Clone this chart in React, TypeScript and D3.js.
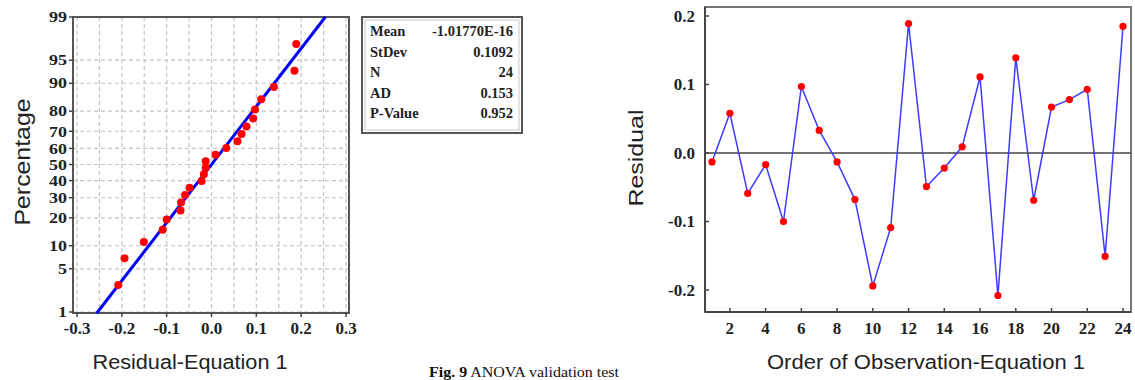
import React from "react";
import * as d3 from "d3";

// residuals in order of observation
const observations = [1, 2, 3, 4, 5, 6, 7, 8, 9, 10, 11, 12, 13, 14, 15, 16, 17, 18, 19, 20, 21, 22, 23, 24];
const residuals = [
  -0.013, 0.058, -0.059, -0.017, -0.1, 0.097, 0.033, -0.013, -0.068, -0.194, -0.109, 0.189,
  -0.049, -0.022, 0.009, 0.111, -0.208, 0.139, -0.069, 0.067, 0.078, 0.093, -0.151, 0.185,
];

const statLabels = ["Mean", "StDev", "N", "AD", "P-Value"];
const statValues = ["-1.01770E-16", "0.1092", "24", "0.153", "0.952"];
const fitMean = 0;
const fitStDev = 0.1092;

const percentTicks = [1, 5, 10, 20, 30, 40, 50, 60, 70, 80, 90, 95, 99];
const residualTicks = [-0.3, -0.2, -0.1, 0, 0.1, 0.2, 0.3];
const residualGrid = [-0.3, -0.25, -0.2, -0.15, -0.1, -0.05, 0, 0.05, 0.1, 0.15, 0.2, 0.25, 0.3];
const orderTicks = [2, 4, 6, 8, 10, 12, 14, 16, 18, 20, 22, 24];
const residTicksRight = [-0.2, -0.1, 0, 0.1, 0.2];

// inverse normal cdf (Acklam)
function normInv(p: number): number {
  const a = [-39.69683028665376, 220.9460984245205, -275.9285104469687, 138.357751867269, -30.66479806614716, 2.506628277459239];
  const b = [-54.47609879822406, 161.5858368580409, -155.6989798598866, 66.80131188771972, -13.28068155288572];
  const c = [-0.007784894002430293, -0.3223964580411365, -2.400758277161838, -2.549732539343734, 4.374664141464968, 2.938163982698783];
  const d = [0.007784695709041462, 0.3224671290700398, 2.445134137142996, 3.754408661907416];
  const pl = 0.02425;
  if (p < pl) {
    const q = Math.sqrt(-2 * Math.log(p));
    return (((((c[0] * q + c[1]) * q + c[2]) * q + c[3]) * q + c[4]) * q + c[5]) / ((((d[0] * q + d[1]) * q + d[2]) * q + d[3]) * q + 1);
  }
  if (p <= 1 - pl) {
    const q = p - 0.5;
    const r = q * q;
    return ((((((a[0] * r + a[1]) * r + a[2]) * r + a[3]) * r + a[4]) * r + a[5]) * q) / (((((b[0] * r + b[1]) * r + b[2]) * r + b[3]) * r + b[4]) * r + 1);
  }
  const q = Math.sqrt(-2 * Math.log(1 - p));
  return -(((((c[0] * q + c[1]) * q + c[2]) * q + c[3]) * q + c[4]) * q + c[5]) / ((((d[0] * q + d[1]) * q + d[2]) * q + d[3]) * q + 1);
}

const serif = "'Liberation Serif', 'Times New Roman', serif";
const sans = "'Liberation Sans', Arial, sans-serif";

const App = () => {
  // ---- left: normal probability plot
  const L = { left: 73, right: 349, top: 17, bottom: 313 };
  const xL = d3.scaleLinear().domain([-0.3, 0.3]).range([77, 346]);
  const yL = d3.scaleLinear().domain([normInv(0.01), normInv(0.99)]).range([312, 17]);
  const yP = (pct: number) => yL(normInv(pct / 100));

  const n = residuals.length;
  const sorted = residuals.slice().sort(d3.ascending);
  const probPoints = sorted.map((r, i) => ({ r, pct: ((i + 1 - 0.3) / (n + 0.4)) * 100 }));

  const fitLine = d3
    .line<number>()
    .x((p) => xL(fitMean + normInv(p) * fitStDev))
    .y((p) => yL(normInv(p)));
  const fitProbs = [0.0095, 0.99];

  // ---- right: residuals vs order
  const R = { left: 705, right: 1131, top: 7, bottom: 312 };
  const xR = d3.scaleLinear().domain([1, 24]).range([712, 1123]);
  const yR = d3.scaleLinear().domain([-0.2, 0.2]).range([290, 16]);
  const resLine = d3
    .line<number>()
    .x((_, i) => xR(observations[i]))
    .y((v) => yR(v));

  return (
    <svg width={1135} height={380} style={{ position: "absolute", left: 0, top: 0, background: "#fff" }}>
      {/* left grid */}
      {residualGrid.map((t) => (
        <line key={"gx" + t} x1={xL(t)} x2={xL(t)} y1={L.top} y2={L.bottom} stroke="#c4c4c4" strokeWidth={1.2} strokeDasharray="4,3" />
      ))}
      {percentTicks.map((t) => (
        <line key={"gy" + t} x1={L.left} x2={L.right} y1={yP(t)} y2={yP(t)} stroke="#c4c4c4" strokeWidth={1.2} strokeDasharray="4,3" />
      ))}
      <rect x={L.left} y={L.top} width={L.right - L.left} height={L.bottom - L.top} fill="none" stroke="#555" strokeWidth={2} />
      {percentTicks.map((t) => (
        <g key={"ty" + t}>
          <line x1={L.left - 4} x2={L.left} y1={yP(t)} y2={yP(t)} stroke="#444" strokeWidth={1.5} />
          <text x={67} y={yP(t)} dy="0.35em" textAnchor="end" fontFamily={serif} fontWeight="bold" fontSize={15} fill="#222" textLength={t < 10 ? 9 : 18} lengthAdjust="spacingAndGlyphs">
            {t}
          </text>
        </g>
      ))}
      {residualTicks.map((t) => (
        <g key={"tx" + t}>
          <line x1={xL(t)} x2={xL(t)} y1={L.bottom} y2={L.bottom + 4} stroke="#444" strokeWidth={1.5} />
          <text x={xL(t)} y={328} dy="0.35em" textAnchor="middle" fontFamily={serif} fontWeight="bold" fontSize={17} fill="#222">
            {t.toFixed(1)}
          </text>
        </g>
      ))}
      <path d={fitLine(fitProbs) || ""} fill="none" stroke="#0000ff" strokeWidth={3} />
      {probPoints.map((p, i) => (
        <circle key={"pp" + i} cx={xL(p.r)} cy={yP(p.pct)} r={4} fill="#ff0000" />
      ))}
      <text transform="translate(22,162) rotate(-90)" textAnchor="middle" dy="0.35em" fontFamily={sans} fontSize={22} fill="#222" textLength={127} lengthAdjust="spacingAndGlyphs">
        Percentage
      </text>
      <text x={190} y={362} dy="0.35em" textAnchor="middle" fontFamily={sans} fontSize={20} fill="#222" textLength={195} lengthAdjust="spacingAndGlyphs">
        Residual-Equation 1
      </text>

      {/* stats box */}
      <rect x={362} y={17} width={160} height={116} fill="#fff" stroke="#555" strokeWidth={2} />
      <rect x={365} y={20} width={154} height={110} fill="none" stroke="#bbb" strokeWidth={0.8} />
      {statLabels.map((s, i) => (
        <g key={"st" + i}>
          <text x={370} y={31 + i * 20.5} dy="0.35em" fontFamily={serif} fontWeight="bold" fontSize={14.5} fill="#222">
            {s}
          </text>
          <text x={513} y={31 + i * 20.5} dy="0.35em" textAnchor="end" fontFamily={serif} fontWeight="bold" fontSize={14.5} fill="#222">
            {statValues[i]}
          </text>
        </g>
      ))}

      {/* right: residual vs order */}
      <rect x={R.left} y={R.top} width={R.right - R.left} height={R.bottom - R.top} fill="none" stroke="#777" strokeWidth={2} />
      <line x1={R.left} x2={R.left} y1={R.top} y2={R.bottom} stroke="#444" strokeWidth={2} />
      <line x1={R.left} x2={R.right} y1={R.bottom} y2={R.bottom} stroke="#444" strokeWidth={2} />
      <line x1={R.left} x2={R.right} y1={yR(0)} y2={yR(0)} stroke="#444" strokeWidth={1.5} />
      {residTicksRight.map((t) => (
        <g key={"ry" + t}>
          <line x1={R.left} x2={R.left + 4} y1={yR(t)} y2={yR(t)} stroke="#444" strokeWidth={1.5} />
          <text x={695} y={yR(t)} dy="0.35em" textAnchor="end" fontFamily={serif} fontWeight="bold" fontSize={17} fill="#222">
            {t.toFixed(1)}
          </text>
        </g>
      ))}
      {orderTicks.map((t) => (
        <g key={"rx" + t}>
          <line x1={xR(t)} x2={xR(t)} y1={R.bottom} y2={R.bottom - 4} stroke="#444" strokeWidth={1.5} />
          <text x={xR(t)} y={328} dy="0.35em" textAnchor="middle" fontFamily={serif} fontWeight="bold" fontSize={17} fill="#222">
            {t}
          </text>
        </g>
      ))}
      <path d={resLine(residuals) || ""} fill="none" stroke="#3c3cff" strokeWidth={1.5} />
      {residuals.map((v, i) => (
        <circle key={"rp" + i} cx={xR(observations[i])} cy={yR(v)} r={3.6} fill="#ff0000" />
      ))}
      <text transform="translate(636,158) rotate(-90)" textAnchor="middle" dy="0.35em" fontFamily={sans} fontSize={21} fill="#222" textLength={97} lengthAdjust="spacingAndGlyphs">
        Residual
      </text>
      <text x={926} y={362} dy="0.35em" textAnchor="middle" fontFamily={sans} fontSize={20} fill="#222" textLength={318} lengthAdjust="spacingAndGlyphs">
        Order of Observation-Equation 1
      </text>

      {/* caption */}
      <text x={429} y={377} fontFamily={serif} fontSize={15} fill="#111" textLength={190} lengthAdjust="spacingAndGlyphs">
        <tspan fontWeight="bold">Fig. 9</tspan> ANOVA validation test
      </text>
    </svg>
  );
};

export default App;
